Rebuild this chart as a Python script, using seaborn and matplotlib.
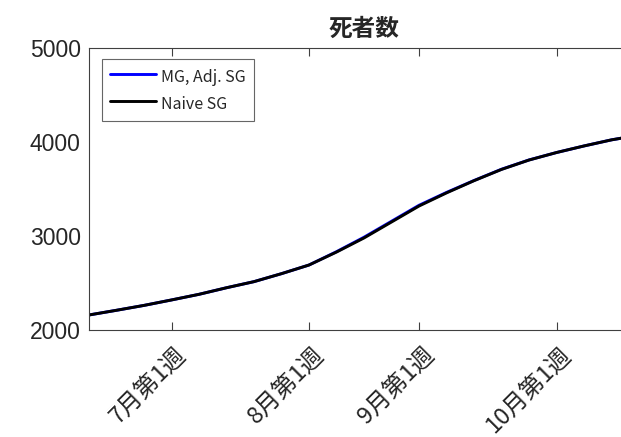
import numpy as np
import pandas as pd
import matplotlib
matplotlib.use("Agg")
import matplotlib.pyplot as plt
import matplotlib.transforms as mtransforms
from matplotlib.lines import Line2D
import seaborn as sns

# Weekly cumulative deaths; week 0 = first week of July
weeks = [-3, -2, -1, 0, 1, 2, 3, 4, 5, 6, 7, 8, 9, 10, 11, 12, 13, 14, 15, 16, 17]
naive_sg = [2160, 2210, 2262, 2320, 2380, 2450, 2515, 2600, 2692, 2830, 2980,
            3150, 3320, 3460, 3590, 3710, 3810, 3890, 3960, 4025, 4075]
mg_adj_sg = [2160, 2210, 2262, 2320, 2380, 2450, 2515, 2600, 2692, 2834, 2988,
             3158, 3328, 3465, 3592, 3712, 3811, 3890, 3960, 4025, 4075]

tick_weeks = [0, 5, 9, 14]
tick_labels = ["7月第1週", "8月第1週", "9月第1週", "10月第1週"]
y_ticks = [2000, 3000, 4000, 5000]
title = "死者数"

sns.set_theme(style="white")
plt.rcParams["font.family"] = ["Noto Sans CJK JP", "DejaVu Sans"]

df = pd.concat([
    pd.DataFrame({"week": weeks, "deaths": mg_adj_sg, "series": "MG, Adj. SG"}),
    pd.DataFrame({"week": weeks, "deaths": naive_sg, "series": "Naive SG"}),
])

fig = plt.figure(figsize=(6.21, 4.37), dpi=100)
ax = fig.add_axes([89 / 621, 1 - 330 / 437, 550 / 621, (330 - 48.3) / 437])

sns.lineplot(data=df, x="week", y="deaths", hue="series",
             palette={"MG, Adj. SG": "#0000ff", "Naive SG": "#000000"},
             linewidth=2.1, ax=ax, legend=False)

ax.set_xlim(-3, 17)
ax.set_ylim(2000, 5000)
ax.set_xlabel("")
ax.set_ylabel("")

ax.tick_params(axis="x", direction="in", length=6, width=0.8, color="#404040",
               top=True, bottom=True, pad=15)
ax.tick_params(axis="y", length=0, pad=6)

ax.set_xticks(tick_weeks)
ax.set_xticklabels(tick_labels, rotation=45, ha="right", va="center",
                   rotation_mode="anchor", fontsize=17, color="#262626")
# nudge the slanted labels to the right of their ticks
shift = mtransforms.ScaledTranslation(11 / 100, 0, fig.dpi_scale_trans)
for tick in ax.xaxis.get_major_ticks():
    tick.label1.set_transform(tick.label1.get_transform() + shift)

ax.set_yticks(y_ticks)
ax.set_yticklabels([str(v) for v in y_ticks], fontsize=16.5,
                   color="#262626", family="Liberation Sans")

for side in ["left", "bottom", "top"]:
    ax.spines[side].set_color("#404040")
    ax.spines[side].set_linewidth(0.8)
ax.spines["right"].set_visible(False)

ax.set_title(title, fontsize=17, fontweight="bold", color="#262626", pad=9)

handles = [Line2D([], [], color="#0000ff", lw=2.1),
           Line2D([], [], color="#000000", lw=2.1)]
leg = ax.legend(handles, ["MG, Adj. SG", "Naive SG"], loc="upper left",
                bbox_to_anchor=((102 - 89) / 550, 1 - (59 - 48.3) / 281.7),
                borderaxespad=0, fontsize=11.5, frameon=True, fancybox=False,
                handlelength=2.9, handletextpad=0.3, labelspacing=0.45,
                handleheight=1.5, borderpad=0.5)
leg.get_frame().set_edgecolor("#404040")
leg.get_frame().set_linewidth(0.8)
for t in leg.get_texts():
    t.set_color("#262626")

fig.savefig("out.png", dpi=100)
